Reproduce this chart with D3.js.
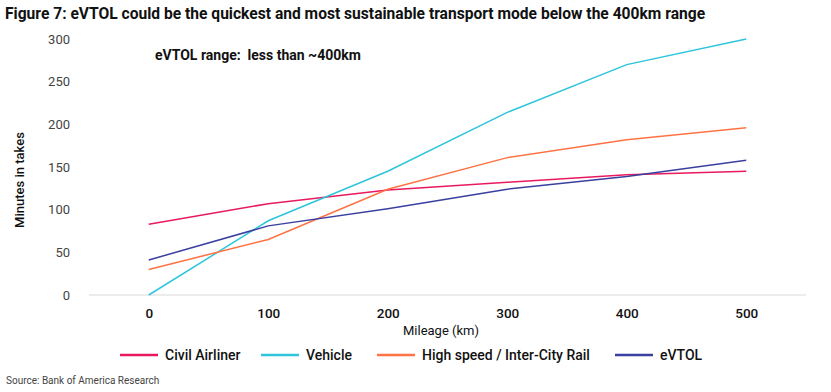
<!DOCTYPE html>
<html>
<head>
<meta charset="utf-8">
<script src="https://cdn.jsdelivr.net/npm/d3@7"></script>
<style>
  body { margin: 0; background: #fff; }
  svg text { font-family: Roboto, "Noto Sans", sans-serif; }
</style>
</head>
<body>
<svg id="chart" width="831" height="392"></svg>
<script>
var mileage = [0, 100, 200, 300, 400, 500];
var civilAirliner = [83, 107, 123, 132, 141, 145];
var vehicle = [0, 87, 145, 214, 270, 300];
var rail = [30, 65, 124, 161, 182, 196];
var evtol = [41, 81, 101, 124, 139, 158];
var yTicks = [0, 50, 100, 150, 200, 250, 300];

var seriesNames = ["Civil Airliner", "Vehicle", "High speed / Inter-City Rail", "eVTOL"];
var seriesValues = [civilAirliner, vehicle, rail, evtol];
var colors = ["#e8195f", "#2ec5dc", "#ff7243", "#3a3fa0"];

var svg = d3.select("#chart");

var x = d3.scaleLinear().domain([-50, 550]).range([89, 806]);
var y = d3.scaleLinear().domain([0, 300]).range([295, 39]);

// title
svg.append("text")
  .attr("x", 5)
  .attr("y", 19)
  .attr("font-size", 15.6)
  .attr("font-weight", "bold")
  .attr("fill", "#111")
  .text("Figure 7: eVTOL could be the quickest and most sustainable transport mode below the 400km range");

// baseline gridline
svg.append("line")
  .attr("x1", x.range()[0])
  .attr("x2", x.range()[1])
  .attr("y1", y(0))
  .attr("y2", y(0))
  .attr("stroke", "#d9d9d9")
  .attr("stroke-width", 1);

// y axis
var yAxis = svg.append("g")
  .attr("transform", "translate(70,0)")
  .call(d3.axisLeft(y).tickValues(yTicks).tickSize(0).tickPadding(0));
yAxis.select(".domain").remove();
yAxis.selectAll("text")
  .attr("font-size", 13)
  .attr("fill", "#444")
  .style("font-family", "Roboto, sans-serif");

// x axis
var xAxis = svg.append("g")
  .attr("transform", "translate(0," + 308 + ")")
  .call(d3.axisBottom(x).tickValues(mileage).tickSize(0).tickPadding(0));
xAxis.select(".domain").remove();
xAxis.selectAll("text")
  .attr("font-size", 13.5)
  .attr("font-weight", 500)
  .attr("fill", "#111")
  .style("font-family", "Roboto, sans-serif");

// axis titles
svg.append("text")
  .attr("x", 441)
  .attr("y", 335)
  .attr("text-anchor", "middle")
  .attr("font-size", 13)
  .attr("fill", "#111")
  .text("Mileage (km)");

svg.append("text")
  .attr("transform", "translate(24,180) rotate(-90)")
  .attr("text-anchor", "middle")
  .attr("font-size", 13)
  .attr("font-weight", 500)
  .attr("fill", "#111")
  .text("Minutes in takes");

// annotation
svg.append("text")
  .attr("x", 155)
  .attr("y", 60)
  .attr("font-size", 14)
  .attr("font-weight", "bold")
  .attr("fill", "#111")
  .attr("xml:space", "preserve")
  .text("eVTOL range:  less than ~400km");

// lines
var line = d3.line()
  .x(function(d, i) { return x(mileage[i]); })
  .y(function(d) { return y(d); });

svg.append("g").selectAll("path")
  .data(seriesValues)
  .enter().append("path")
  .attr("d", line)
  .attr("fill", "none")
  .attr("stroke", function(d, i) { return colors[i]; })
  .attr("stroke-width", 1.5);

// legend
var legendX = [120, 261, 377, 615];
var legend = svg.append("g").selectAll("g")
  .data(seriesNames)
  .enter().append("g")
  .attr("transform", function(d, i) { return "translate(" + legendX[i] + ",355)"; });

legend.append("line")
  .attr("x1", 0)
  .attr("x2", 38)
  .attr("stroke", function(d, i) { return colors[i]; })
  .attr("stroke-width", 2.5);

legend.append("text")
  .attr("x", 45)
  .attr("y", 5)
  .attr("font-size", 14)
  .attr("font-weight", 500)
  .attr("fill", "#111")
  .text(function(d) { return d; });

// source
svg.append("text")
  .attr("x", 6)
  .attr("y", 384)
  .attr("font-size", 10)
  .attr("fill", "#444")
  .text("Source: Bank of America Research");
</script>
</body>
</html>
